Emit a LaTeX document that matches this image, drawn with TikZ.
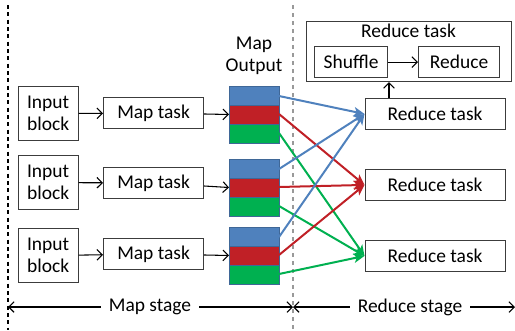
\documentclass[tikz,border=0pt]{standalone}
\usepackage{fontspec}
\setmainfont{Carlito}
\usetikzlibrary{arrows.meta}
\definecolor{mblue}{RGB}{79,129,189}
\definecolor{mred}{RGB}{192,32,38}
\definecolor{mgreen}{RGB}{0,176,80}
\definecolor{bordergray}{RGB}{60,60,60}
\tikzset{
  box/.style={draw=bordergray, line width=0.9pt, inner sep=0pt, font=\fontsize{14.6}{16.5}\selectfont, align=center},
  seg/.style={draw=mblue!80!black, line width=0.6pt},
  blk/.style={-{Straight Barb[length=4pt,width=8pt,line width=0.8pt]}, line width=0.8pt},
  col/.style={line width=1.5pt, -{Stealth[length=8pt,width=7pt,inset=2pt]}},
  lbl/.style={font=\fontsize{14.6}{16.5}\selectfont, align=center, inner sep=1pt},
}
\begin{document}
\begin{tikzpicture}[x=0.75pt,y=-0.75pt]
\useasboundingbox (0,0) rectangle (515,330);
% dashed stage lines
\draw[dash pattern=on 3pt off 2.5pt, line width=0.8pt] (8,5) -- (8,330);
\draw[dash pattern=on 3pt off 3pt, line width=0.9pt, gray!80] (293,5) -- (293,330);

% input blocks
\foreach \i/\yt in {1/86,2/155,3/228}{
  \node[box, minimum width=45pt, minimum height=40.5pt, anchor=north west] (in\i) at (17.5,\yt) {Input\\block};
}
% map tasks
\foreach \i/\yt in {1/97,2/167,3/238}{
  \node[box, minimum width=75pt, minimum height=23pt, anchor=north west] (mt\i) at (103,\yt) {Map task};
}
% map output stacks
\foreach \i/\yt in {1/86,2/159,3/227}{
  \fill[mblue] (229,\yt) rectangle (279,\yt+19);
  \fill[mred] (229,\yt+19) rectangle (279,\yt+38);
  \fill[mgreen] (229,\yt+38) rectangle (279,\yt+57);
  \draw[seg] (229,\yt) rectangle (279,\yt+57);
  \draw[seg] (229,\yt+19) -- (279,\yt+19);
  \draw[seg] (229,\yt+38) -- (279,\yt+38);
  \coordinate (mo\i) at (229,\yt+28.5);
  \coordinate (b\i) at (279,\yt+10);
  \coordinate (r\i) at (279,\yt+28);
  \coordinate (g\i) at (279,\yt+47);
}
\node[lbl] (molbl) at (254,56) {Map\\Output};

% reduce tasks
\foreach \i/\yt in {1/98,2/169,3/240}{
  \node[box, minimum width=105pt, minimum height=23pt, anchor=north west] (rt\i) at (364.5,\yt) {Reduce task};
}
% detail box
\node[box, minimum width=153.75pt, minimum height=45pt, anchor=north west] (big) at (306,21) {};
\node[lbl, anchor=north] (bigt) at (408.5,22) {Reduce task};
\node[box, minimum width=54.75pt, minimum height=23.25pt, anchor=north west] (sh) at (314,46) {Shuffle};
\node[box, minimum width=60.75pt, minimum height=23.25pt, anchor=north west] (rd) at (418,46) {Reduce};
\draw[blk] (sh) -- (rd);
\draw[blk] (rt1.north -| 389,0) -- (big.south -| 389,0);

% black arrows
\foreach \i in {1,2,3}{
  \draw[blk] (in\i) -- (mt\i);
  \draw[blk] (mt\i) -- (mo\i);
}

% coloured arrows
\coordinate (e1) at (rt1.west);
\coordinate (e2) at (rt2.west);
\coordinate (e3) at (rt3.west);
\foreach \i in {1,2,3}{
  \draw[col, mblue] (b\i) -- (e1);
  \draw[col, mred] (r\i) -- (e2);
  \draw[col, mgreen] (g\i) -- (e3);
}

% stage arrows
\node[lbl, fill=white, inner sep=6pt] (ms) at (150,307) {Map stage};
\node[lbl, fill=white, inner sep=6pt] (rs) at (410,307) {Reduce stage};
\coordinate (l0) at (8,307);
\coordinate (l1) at (293,307);
\coordinate (l2) at (515,307);
\draw[blk] (ms.west) -- (l0);
\draw[blk] (ms.east) -- (l1);
\draw[blk] (rs.west) -- (l1);
\draw[blk] (rs.east) -- (l2);
\end{tikzpicture}
\end{document}
